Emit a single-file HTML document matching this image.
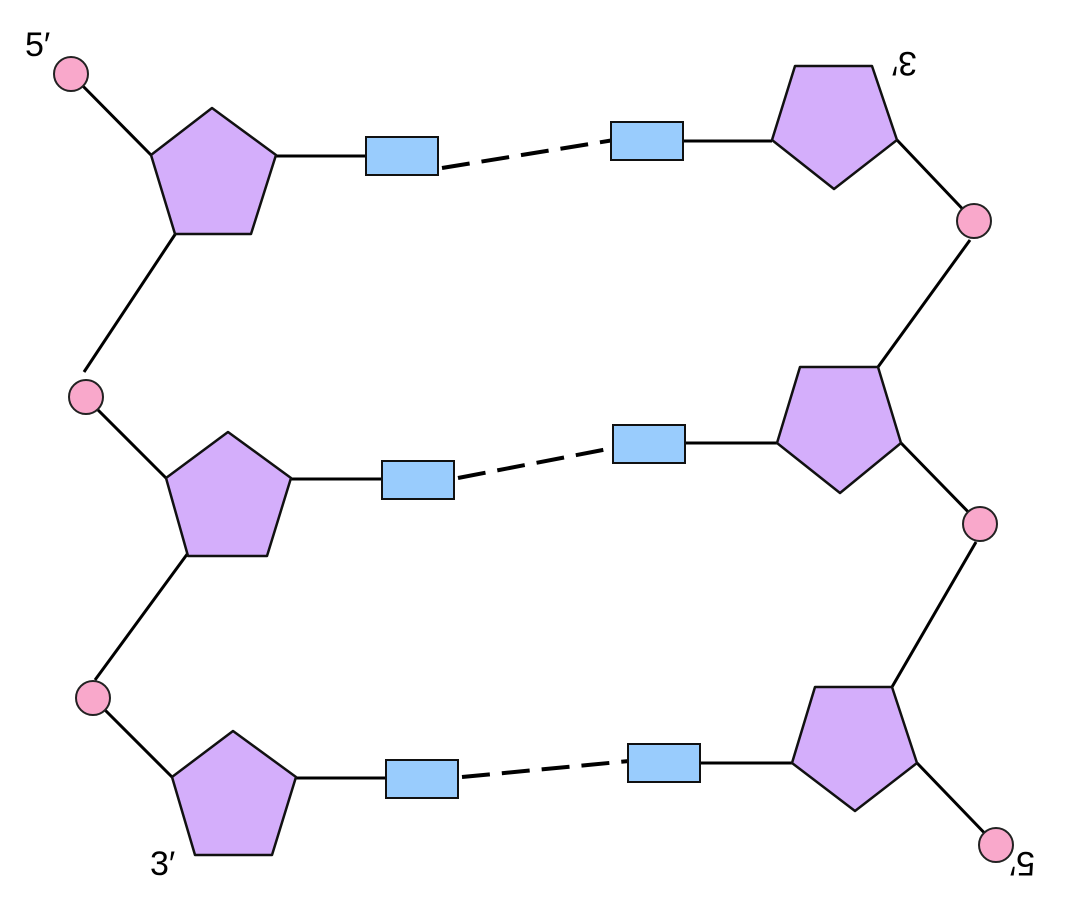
<!DOCTYPE html>
<html><head><meta charset="utf-8"><style>body{margin:0;background:#fff}svg{display:block}</style></head><body>
<svg width="1065" height="920" viewBox="0 0 1065 920" xmlns="http://www.w3.org/2000/svg">
<g stroke="#000" stroke-width="3" fill="none">
<line x1="72" y1="75" x2="151" y2="155"/>
<line x1="178" y1="230" x2="84" y2="372"/>
<line x1="86" y1="398" x2="166" y2="478"/>
<line x1="188" y1="553" x2="95" y2="680"/>
<line x1="93" y1="698" x2="172" y2="777"/>
<line x1="897" y1="140" x2="974" y2="221"/>
<line x1="970" y1="240" x2="878" y2="367"/>
<line x1="901" y1="443" x2="980" y2="524"/>
<line x1="976" y1="542" x2="892" y2="687"/>
<line x1="917" y1="763" x2="996" y2="845"/>
<line x1="276" y1="156" x2="366" y2="156"/>
<line x1="683" y1="141" x2="772" y2="141"/>
<line x1="291" y1="479" x2="382" y2="479"/>
<line x1="685" y1="443" x2="777" y2="443"/>
<line x1="296" y1="778" x2="386" y2="778"/>
<line x1="700" y1="763" x2="792" y2="763"/>
<g stroke-width="4" stroke-dasharray="28,12">
<line x1="442" y1="168" x2="614" y2="140"/>
<line x1="458" y1="478" x2="613" y2="448"/>
<line x1="462" y1="777" x2="640" y2="760"/>
</g>
</g>
<g fill="#d4aefb" stroke="#111" stroke-width="2.5" stroke-linejoin="round">
<polygon points="212,108 276,155 251,234 175,234 151,155"/>
<polygon points="228,432 291,478 267,556 188,556 166,478"/>
<polygon points="233,731 296,777 272,855 195,855 172,777"/>
<polygon points="795,66 872,66 897,140 834,189 772,140"/>
<polygon points="800,367 878,367 901,443 840,493 777,443"/>
<polygon points="815,687 892,687 917,763 855,811 792,763"/>
</g>
<g fill="#99ccfd" stroke="#111" stroke-width="2">
<rect x="366" y="137" width="72" height="38"/>
<rect x="382" y="461" width="72" height="38"/>
<rect x="386" y="760" width="72" height="38"/>
<rect x="611" y="122" width="72" height="38"/>
<rect x="613" y="425" width="72" height="38"/>
<rect x="628" y="744" width="72" height="38"/>
</g>
<g fill="#f9a8cb" stroke="#222" stroke-width="2">
<circle cx="71" cy="74" r="17"/>
<circle cx="86" cy="397" r="17"/>
<circle cx="93" cy="698" r="17"/>
<circle cx="974" cy="221" r="17"/>
<circle cx="980" cy="524" r="17"/>
<circle cx="996" cy="845" r="17"/>
</g>
<g font-family="Liberation Sans, sans-serif" font-size="34" fill="#000">
<text x="25" y="56">5′</text>
<text x="150" y="875">3′</text>
<text transform="translate(917,52) rotate(180)">3′</text>
<text transform="translate(1035,852) rotate(180)">5′</text>
</g>
</svg>
</body></html>
